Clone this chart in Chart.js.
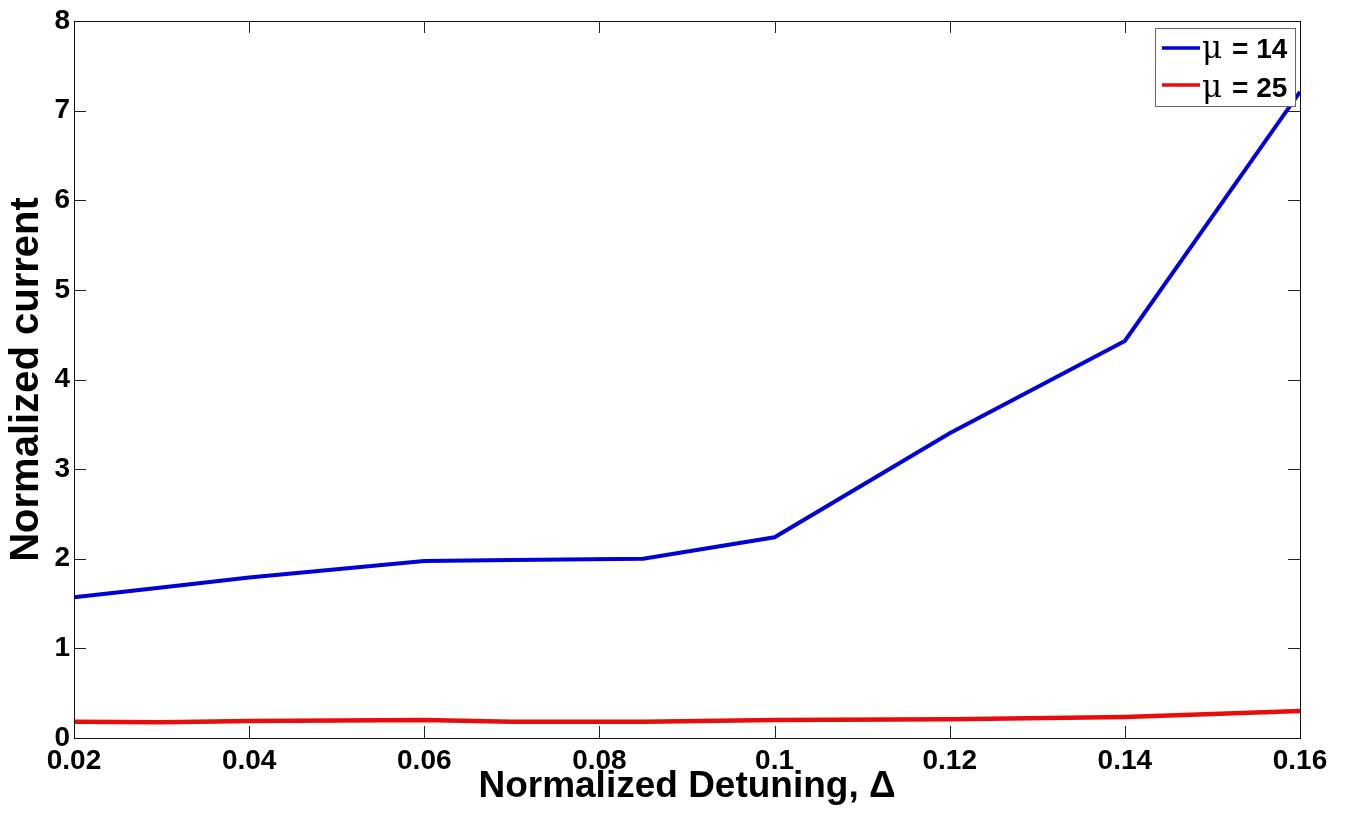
<!DOCTYPE html>
<html>
<head>
<meta charset="utf-8">
<title>Normalized current vs detuning</title>
<script src="https://cdn.jsdelivr.net/npm/chart.js@4/dist/chart.umd.min.js"></script>
<style>
  html, body { margin: 0; padding: 0; background: #ffffff; }
  #wrap { width: 1347px; height: 817px; position: relative; }
</style>
</head>
<body>
<div id="wrap"><canvas id="chart"></canvas></div>
<script>
// Normalized detuning values (x) and normalized current for each mu
const detuning    = [0.02, 0.03, 0.04, 0.06, 0.07, 0.085, 0.1, 0.12, 0.14, 0.16];
const currentMu14 = [1.57, 1.68, 1.79, 1.975, 1.985, 2.0, 2.24, 3.40, 4.43, 7.21];
const currentMu25 = [0.18, 0.175, 0.19, 0.20, 0.18, 0.18, 0.20, 0.21, 0.235, 0.30];

const seriesLabels = ['14', '25'];
const xTickValues = [0.02, 0.04, 0.06, 0.08, 0.1, 0.12, 0.14, 0.16];
const yTickValues = [0, 1, 2, 3, 4, 5, 6, 7, 8];

const BLUE = 'rgb(0,0,215)';
const RED = 'rgb(232,12,12)';
const FONT = '"Liberation Sans", Arial, sans-serif';

function toPoints(xs, ys) {
  return xs.map((x, i) => ({ x: x, y: ys[i] }));
}

// Frame, inward tick marks on all four sides, and the boxed legend
const framePlugin = {
  id: 'frame',
  afterDatasetsDraw(chart) {
    const ctx = chart.ctx;
    const a = chart.chartArea;
    const xs = chart.scales.x;
    const ys = chart.scales.y;
    const tl = 12;
    ctx.save();
    ctx.strokeStyle = '#222';
    ctx.lineWidth = 1;
    ctx.beginPath();
    xTickValues.forEach(v => {
      const px = Math.round(xs.getPixelForValue(v)) + 0.5;
      ctx.moveTo(px, a.bottom); ctx.lineTo(px, a.bottom - tl);
      ctx.moveTo(px, a.top); ctx.lineTo(px, a.top + tl);
    });
    yTickValues.forEach(v => {
      const py = Math.round(ys.getPixelForValue(v)) + 0.5;
      ctx.moveTo(a.left, py); ctx.lineTo(a.left + tl, py);
      ctx.moveTo(a.right, py); ctx.lineTo(a.right - tl, py);
    });
    ctx.stroke();
    ctx.strokeStyle = '#111';
    ctx.strokeRect(Math.round(a.left) + 0.5, Math.round(a.top) + 0.5,
                   Math.round(a.right - a.left), Math.round(a.bottom - a.top));

    // legend box
    const bx = Math.round(a.right) - 145, by = Math.round(a.top) + 7, bw = 140, bh = 78;
    ctx.fillStyle = '#fff';
    ctx.fillRect(bx, by, bw, bh);
    ctx.strokeStyle = '#666';
    ctx.strokeRect(bx + 0.5, by + 0.5, bw, bh);
    chart.data.datasets.forEach((ds, i) => {
      const cy = by + 20 + i * 37;
      const base = by + 30 + i * 39;
      ctx.strokeStyle = ds.borderColor;
      ctx.lineWidth = 3.5;
      ctx.beginPath();
      ctx.moveTo(bx + 7, cy); ctx.lineTo(bx + 45, cy);
      ctx.stroke();
      ctx.fillStyle = '#000';
      ctx.textBaseline = 'alphabetic';
      ctx.textAlign = 'left';
      ctx.font = '31px "DejaVu Serif", "Liberation Serif", serif';
      ctx.fillText('\u03bc', bx + 47, base);
      ctx.font = 'bold 28px ' + FONT;
      ctx.fillText('= ' + seriesLabels[i], bx + 77, base);
    });
    ctx.restore();
  }
};

new Chart(document.getElementById('chart'), {
  type: 'line',
  data: {
    datasets: [
      {
        label: '\u03bc = ' + seriesLabels[0],
        data: toPoints(detuning, currentMu14),
        borderColor: BLUE,
        borderWidth: 4,
        pointRadius: 0,
        tension: 0,
        fill: false
      },
      {
        label: '\u03bc = ' + seriesLabels[1],
        data: toPoints(detuning, currentMu25),
        borderColor: RED,
        borderWidth: 4.5,
        pointRadius: 0,
        tension: 0,
        fill: false
      }
    ]
  },
  options: {
    responsive: true,
    maintainAspectRatio: false,
    animation: false,
    layout: { padding: { top: 21, right: 47, left: 0, bottom: 0 } },
    plugins: {
      legend: { display: false },
      tooltip: { enabled: false }
    },
    scales: {
      x: {
        type: 'linear',
        min: 0.02,
        max: 0.16,
        afterFit(scale) { scale.height = 79; },
        afterBuildTicks(scale) { scale.ticks = xTickValues.map(v => ({ value: v })); },
        grid: { display: false, drawTicks: false },
        border: { display: false },
        ticks: {
          padding: 6,
          maxRotation: 0,
          autoSkip: false,
          color: '#000',
          font: { family: FONT, size: 28, weight: 'bold' },
          callback: v => String(+v.toFixed(2))
        },
        title: {
          display: true,
          text: 'Normalized Detuning, \u0394',
          color: '#000',
          font: { family: FONT, size: 37, weight: 'bold' },
          padding: { top: 0, bottom: 8 }
        }
      },
      y: {
        type: 'linear',
        min: 0,
        max: 8,
        afterFit(scale) { scale.width = 74; },
        afterBuildTicks(scale) { scale.ticks = yTickValues.map(v => ({ value: v })); },
        grid: { display: false, drawTicks: false },
        border: { display: false },
        ticks: {
          padding: 4,
          color: '#000',
          font: { family: FONT, size: 28, weight: 'bold' }
        },
        title: {
          display: true,
          text: 'Normalized current',
          color: '#000',
          font: { family: FONT, size: 40, weight: 'bold' },
          padding: { top: 3, bottom: 0 }
        }
      }
    }
  },
  plugins: [framePlugin]
});
</script>
</body>
</html>
